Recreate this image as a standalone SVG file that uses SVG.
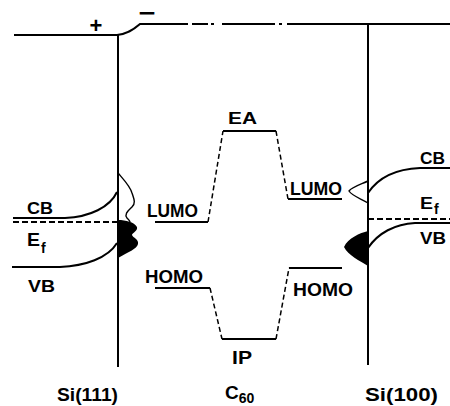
<svg xmlns="http://www.w3.org/2000/svg" width="450" height="406" viewBox="0 0 450 406">
<style>
.ln{fill:none;stroke:#000;stroke-width:2;stroke-linecap:butt}
.lvl{fill:none;stroke:#000;stroke-width:2}
.dsh{fill:none;stroke:#000;stroke-width:1.5;stroke-dasharray:5,3}
.ef{fill:none;stroke:#000;stroke-width:2.2;stroke-dasharray:6,3}
.thin{fill:none;stroke:#000;stroke-width:1.4}
text{font-family:"Liberation Sans",Arial,sans-serif;font-weight:bold;fill:#000}
</style>
<rect width="450" height="406" fill="#fff"/>
<g id="vacuum-level">
<path class="ln" d="M14,35 L117,35 C127,34 133,30 140,24 L188,24"/>
<path class="ln" d="M192,24 L208,24 M211,24 L214,24 M222,24 L275,24 M279,24 L282,24 M287,24 L450,24"/>
<text x="96" y="33" font-size="22" text-anchor="middle">+</text>
<text x="147" y="21" font-size="24" text-anchor="middle" textLength="17" lengthAdjust="spacingAndGlyphs">−</text>
</g>
<g id="si111">
<path class="ln" d="M118,34 L118,367"/>
<path class="ln" d="M13,218 L65,218 C90,217 110,207 117,192"/>
<path class="ln" d="M12,267 L60,267 C85,266 108,258 117,243"/>
<path class="ef" d="M13,222 L118,222"/>
<path class="thin" d="M118,173 C124,180 130,186 132,193 C134,199 136,203 132,207 C128,211 124,214 127,218 C129,220 130,221 130,222"/>
<path fill="#000" d="M118,220 C126,220 134,222 137,227 C138,231 132,233 132,235 C133,238 139,239 138,244 C137,249 128,252 118,258 Z"/>
<text x="27" y="214" font-size="16" textLength="26" lengthAdjust="spacingAndGlyphs">CB</text>
<text x="27" y="246" font-size="18" textLength="13" lengthAdjust="spacingAndGlyphs">E</text>
<text x="41" y="253" font-size="14">f</text>
<text x="28" y="292" font-size="17" textLength="27" lengthAdjust="spacingAndGlyphs">VB</text>
<text x="57" y="401" font-size="18" textLength="61" lengthAdjust="spacingAndGlyphs">Si(111)</text>
</g>
<g id="c60">
<path class="lvl" d="M155,222 L208,222"/>
<path class="dsh" d="M208,222 L223,131"/>
<path class="lvl" d="M223,131 L276,131"/>
<path class="dsh" d="M276,131 L288,199"/>
<path class="lvl" d="M288,199 L342,199"/>
<path class="lvl" d="M155,288 L210,288"/>
<path class="dsh" d="M210,288 L222,339"/>
<path class="lvl" d="M222,339 L276,339"/>
<path class="dsh" d="M276,339 L289,268"/>
<path class="lvl" d="M289,268 L342,268"/>
<text x="147" y="217" font-size="18" textLength="51" lengthAdjust="spacingAndGlyphs">LUMO</text>
<text x="228" y="124" font-size="17" textLength="29" lengthAdjust="spacingAndGlyphs">EA</text>
<text x="290" y="195" font-size="18" textLength="52" lengthAdjust="spacingAndGlyphs">LUMO</text>
<text x="145" y="283" font-size="18" textLength="58" lengthAdjust="spacingAndGlyphs">HOMO</text>
<text x="293" y="296" font-size="18" textLength="60" lengthAdjust="spacingAndGlyphs">HOMO</text>
<text x="232" y="364" font-size="18" textLength="20" lengthAdjust="spacingAndGlyphs">IP</text>
<text x="225" y="399" font-size="19">C<tspan font-size="14" dy="4">60</tspan></text>
</g>
<g id="si100">
<path class="ln" d="M368,24 L368,365"/>
<path class="ln" d="M368,193 C378,178 395,169 420,168 L450,168"/>
<path class="ln" d="M368,248 C378,233 395,224 415,223 L450,223"/>
<path class="ef" d="M368,219 L450,219"/>
<path class="thin" d="M368,181 C362,184 352,187 349,191 C352,196 362,199 368,203"/>
<path fill="#000" d="M368,231 C360,233 348,238 344,247 C348,255 360,261 368,266 Z"/>
<text x="420" y="164" font-size="17" textLength="25" lengthAdjust="spacingAndGlyphs">CB</text>
<text x="420" y="209" font-size="17" textLength="13" lengthAdjust="spacingAndGlyphs">E</text>
<text x="434" y="214" font-size="14">f</text>
<text x="420" y="244" font-size="17" textLength="26" lengthAdjust="spacingAndGlyphs">VB</text>
<text x="365" y="401" font-size="18" textLength="73" lengthAdjust="spacingAndGlyphs">Si(100)</text>
</g>
</svg>
